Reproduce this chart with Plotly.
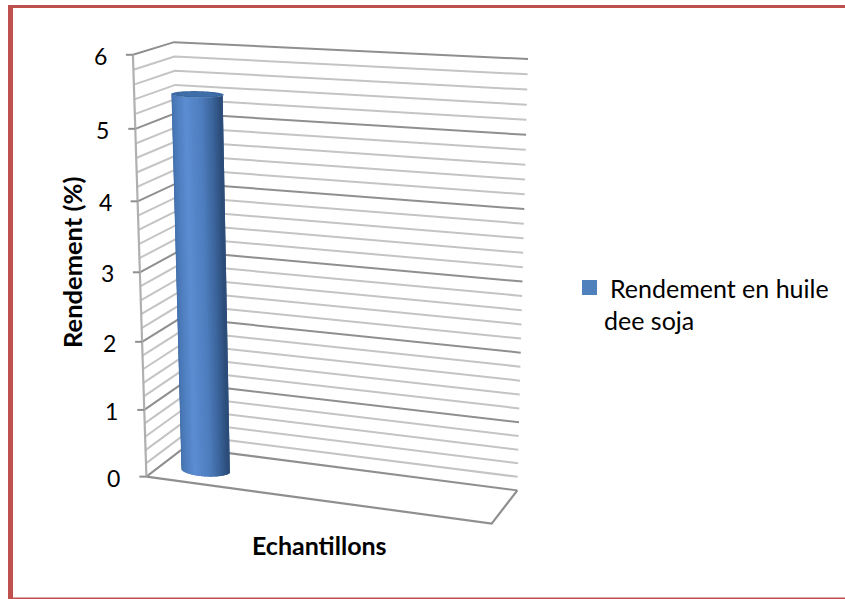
import numpy as np
import plotly.graph_objects as go

# Chart data
series_name = "Rendement en huile dee soja"
sample_values = [5.42]
y_tick_values = [0, 1, 2, 3, 4, 5, 6]
y_title = "Rendement (%)"
x_title = "Echantillons"
legend_lines = ["Rendement en huile", "dee soja"]
grid_step = 0.2

FONT = "Lato"
WALL_MAJOR = "#8F8F8F"
WALL_MINOR = "#C4C4C4"
FRAME = "#C0504D"

# Oblique perspective camera for the box: (across, depth, value) -> page pixels,
# solved from the box corners as they sit on the page.
box_corners = [
    ((0, 0, 0), (146, 477)), ((1, 0, 0), (492, 523)),
    ((1, 1, 0), (517, 491)), ((0, 1, 0), (185, 447)),
    ((0, 1, 6), (174, 42)), ((1, 1, 6), (528, 59)),
    ((0, 0, 6), (133, 55)),
]
rows, rhs = [], []
for (a, d, v), (u, w) in box_corners:
    rows.append([a, d, v, 1, 0, 0, 0, 0, -u * a, -u * d, -u * v])
    rhs.append(u)
    rows.append([0, 0, 0, 0, a, d, v, 1, -w * a, -w * d, -w * v])
    rhs.append(w)
cam = np.append(np.linalg.lstsq(np.array(rows, float), np.array(rhs, float), rcond=None)[0], 1.0).reshape(3, 4)


def project(a, d, v):
    a, d, v = np.broadcast_arrays(a, d, v)
    pts = np.stack([a, d, v, np.ones_like(a, dtype=float)])
    h = cam @ pts
    return h[0] / h[2], h[1] / h[2]


fig = go.Figure()


def polyline(points, color, width):
    xs, ys = zip(*[project(*p) for p in points])
    fig.add_trace(go.Scatter(x=[float(x) for x in xs], y=[float(y) for y in ys], mode="lines",
                             line=dict(color=color, width=width), hoverinfo="skip", showlegend=False))


# Walls: each level runs along the side wall and then the back wall
n_levels = int(round(6 / grid_step))
for i in range(n_levels + 1):
    level = i * grid_step
    major = i % 5 == 0
    polyline([(0, 0, level), (0, 1, level), (1, 1, level)],
             WALL_MAJOR if major else WALL_MINOR, 2)

# Floor outline and the value axis with its ticks
polyline([(0, 0, 0), (1, 0, 0), (1, 1, 0)], WALL_MAJOR, 2.2)
polyline([(0, 0, 0), (0, 0, 6)], "#B0B0B0", 2.2)
for t in y_tick_values:
    x0, y0 = project(0, 0, t)
    fig.add_trace(go.Scatter(x=[float(x0) - 7, float(x0)], y=[float(y0), float(y0)], mode="lines",
                             line=dict(color=WALL_MAJOR, width=2), hoverinfo="skip", showlegend=False))

# Cylinder built from the sample value: strips of even width across the front,
# each overlapping the next one so no seams show, then the cap
CYL_X, CYL_D, CYL_RX, CYL_RD = 0.135, 0.42, 0.073, 0.2
shade_pos = [0.0, 0.1, 0.42, 0.72, 0.9, 1.0]
shade_rgb = np.array([[60, 104, 160], [72, 118, 180], [92, 141, 210],
                      [78, 125, 190], [58, 98, 152], [42, 74, 118]], float)


def rgb_at(t):
    c = [np.interp(t, shade_pos, shade_rgb[:, k]) for k in range(3)]
    return "rgb(%d,%d,%d)" % tuple(int(round(v)) for v in c)


height = sample_values[0]
across = np.linspace(0, 1, 41)
angles = 2 * np.pi - np.arccos(2 * across - 1)
for i in range(len(angles) - 1):
    arc = np.linspace(angles[i], angles[min(i + 2, len(angles) - 1)], 7)
    ca, sa = CYL_X + CYL_RX * np.cos(arc), CYL_D + CYL_RD * np.sin(arc)
    bx, by = project(ca, sa, 0 * arc)
    tx, ty = project(ca, sa, height + 0 * arc)
    col = rgb_at((across[i] + across[i + 1]) / 2)
    fig.add_trace(go.Scatter(x=np.r_[bx, tx[::-1]].tolist(), y=np.r_[by, ty[::-1]].tolist(),
                             mode="lines", line=dict(width=0, simplify=False, color=col),
                             fill="toself", fillcolor=col, name=series_name,
                             hovertemplate="%{fullData.name}<extra></extra>", showlegend=False))

loop = np.linspace(0, 2 * np.pi, 73)
for scale, col in [(1.0, "#3A68A0"), (0.72, "#3E6DA8")]:
    cx_, cy_ = project(CYL_X + scale * CYL_RX * np.cos(loop), CYL_D + scale * CYL_RD * np.sin(loop), height + 0 * loop)
    fig.add_trace(go.Scatter(x=cx_.tolist(), y=cy_.tolist(), mode="lines", fill="toself", fillcolor=col,
                             line=dict(width=0, simplify=False, color=col), hoverinfo="skip", showlegend=False))

# Text
annotations = []
for t in y_tick_values:
    x0, y0 = project(0, 0, t)
    annotations.append(dict(x=float(x0) - 24, y=float(y0) + 1, text=str(t), xanchor="right", yanchor="middle",
                            showarrow=False, font=dict(family=FONT, size=23, color="#000000")))
annotations += [
    dict(x=72, y=263, text="<b>%s</b>" % y_title, textangle=-90, showarrow=False,
         font=dict(family=FONT, size=25.5, color="#000000")),
    dict(x=319, y=545, text="<b>%s</b>" % x_title, showarrow=False,
         font=dict(family=FONT, size=25, color="#000000")),
    dict(x=608, y=288, text=legend_lines[0], xanchor="left", showarrow=False,
         font=dict(family=FONT, size=25, color="#000000")),
    dict(x=602, y=320, text=legend_lines[1], xanchor="left", showarrow=False,
         font=dict(family=FONT, size=25, color="#000000")),
]

# Legend swatch and the red page frame
shapes = [
    dict(type="rect", x0=582, x1=597, y0=280, y1=295, fillcolor="#4F81BD", line=dict(width=0)),
    dict(type="rect", x0=8, x1=845, y0=5, y1=8, fillcolor=FRAME, line=dict(width=0)),
    dict(type="rect", x0=8, x1=13, y0=5, y1=599, fillcolor=FRAME, line=dict(width=0)),
    dict(type="rect", x0=8, x1=845, y0=597.5, y1=599, fillcolor=FRAME, line=dict(width=0)),
]

fig.update_layout(
    width=845, height=599, margin=dict(l=0, r=0, t=0, b=0),
    paper_bgcolor="white", plot_bgcolor="white", showlegend=False,
    xaxis=dict(range=[0, 845], visible=False, fixedrange=True),
    yaxis=dict(range=[599, 0], visible=False, fixedrange=True),
    annotations=annotations, shapes=shapes,
)

fig.write_html("out.html", config=dict(displayModeBar=False))
